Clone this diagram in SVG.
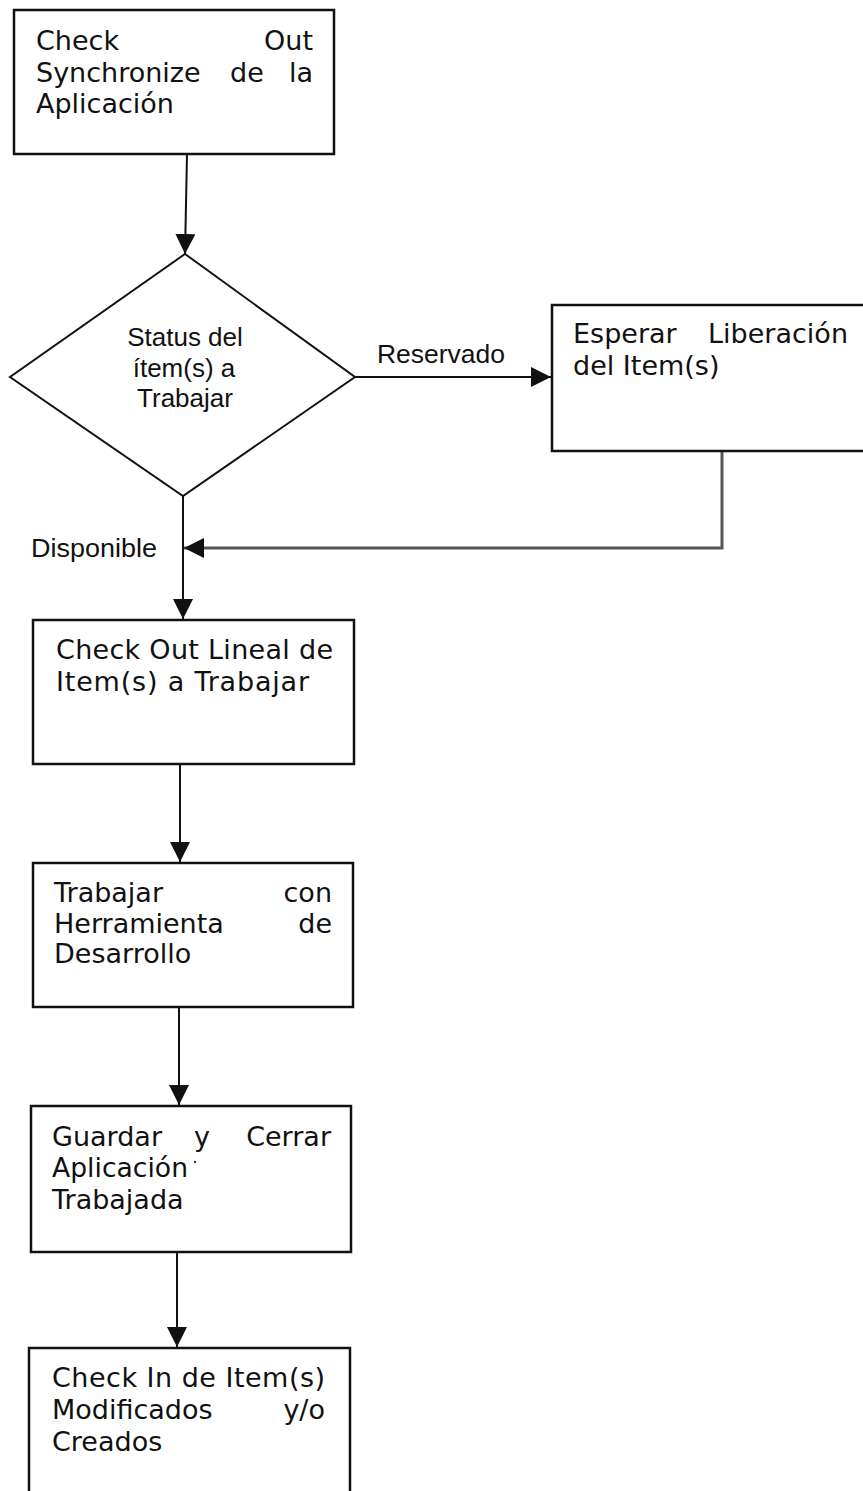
<svg xmlns="http://www.w3.org/2000/svg" width="863" height="1491" viewBox="0 0 863 1491">
  <style>
    .box { fill: #ffffff; stroke: #111111; stroke-width: 2.5; }
    .dec { fill: #ffffff; stroke: #111111; stroke-width: 2; }
    .step { font-family: "DejaVu Sans", Verdana, sans-serif; font-size: 27px; fill: #111111; }
    .lbl { font-family: "Liberation Sans", Arial, sans-serif; font-size: 26px; fill: #111111; }
    .end { text-anchor: end; }
    .mid { text-anchor: middle; }
    .flow { fill: none; stroke: #111111; stroke-width: 2; }
    .back { fill: none; stroke: #555555; stroke-width: 3; }
  </style>
  <defs>
    <marker id="arrow" viewBox="0 0 20 20" markerWidth="20" markerHeight="20" refX="20" refY="10" orient="auto" markerUnits="userSpaceOnUse">
      <path d="M0,0 L20,10 L0,20 Z" fill="#111111"/>
    </marker>
  </defs>

  <rect width="863" height="1491" fill="#ffffff"/>

  <!-- connectors -->
  <g id="connectors">
    <line class="flow" x1="187" y1="154" x2="185" y2="254" marker-end="url(#arrow)"/>
    <line class="flow" x1="355" y1="377" x2="551" y2="377" marker-end="url(#arrow)"/>
    <polyline class="back" points="722,451 722,548 184,548" marker-end="url(#arrow)"/>
    <line class="flow" x1="183" y1="496" x2="183" y2="619" marker-end="url(#arrow)"/>
    <line class="flow" x1="180" y1="764" x2="180" y2="862" marker-end="url(#arrow)"/>
    <line class="flow" x1="179" y1="1007" x2="179" y2="1105" marker-end="url(#arrow)"/>
    <line class="flow" x1="177" y1="1252" x2="177" y2="1347" marker-end="url(#arrow)"/>
    <text class="lbl" x="377" y="363" textLength="128" lengthAdjust="spacingAndGlyphs">Reservado</text>
    <text class="lbl" x="31" y="557" textLength="126" lengthAdjust="spacingAndGlyphs">Disponible</text>
  </g>

  <!-- Check Out Synchronize -->
  <g id="checkout-sync">
    <rect class="box" x="14" y="10" width="320" height="144"/>
    <text class="step" x="36" y="50">Check</text>
    <text class="step end" x="313" y="50">Out</text>
    <text class="step" x="36" y="82">Synchronize</text>
    <text class="step" x="230" y="82">de</text>
    <text class="step end" x="313" y="82">la</text>
    <text class="step" x="36" y="113">Aplicación</text>
  </g>

  <!-- Status decision -->
  <g id="status">
    <polygon class="dec" points="185,254 355,377 183,496 10,377"/>
    <text class="lbl mid" x="185" y="346">Status del</text>
    <text class="lbl mid" x="184" y="377">ítem(s) a</text>
    <text class="lbl mid" x="185" y="407">Trabajar</text>
  </g>

  <!-- Esperar Liberacion (runs past the right edge) -->
  <g id="esperar">
    <rect class="box" x="552" y="305" width="320" height="146"/>
    <text class="step" x="573" y="343">Esperar</text>
    <text class="step end" x="848" y="343">Liberación</text>
    <text class="step" x="573" y="375">del Item(s)</text>
  </g>

  <!-- Check Out Lineal -->
  <g id="checkout-lineal">
    <rect class="box" x="33" y="620" width="321" height="144"/>
    <text class="step" x="56" y="659" textLength="277" lengthAdjust="spacing">Check Out Lineal de</text>
    <text class="step" x="56" y="691" textLength="253" lengthAdjust="spacing">Item(s) a Trabajar</text>
  </g>

  <!-- Trabajar con Herramienta -->
  <g id="trabajar">
    <rect class="box" x="33" y="863" width="320" height="144"/>
    <text class="step" x="54" y="902">Trabajar</text>
    <text class="step end" x="332" y="902">con</text>
    <text class="step" x="54" y="933">Herramienta</text>
    <text class="step end" x="332" y="933">de</text>
    <text class="step" x="54" y="963">Desarrollo</text>
  </g>

  <!-- Guardar y Cerrar -->
  <g id="guardar">
    <rect class="box" x="31" y="1106" width="320" height="146"/>
    <text class="step" x="52" y="1146">Guardar</text>
    <text class="step mid" x="202" y="1146">y</text>
    <text class="step end" x="331" y="1146">Cerrar</text>
    <text class="step" x="52" y="1177" textLength="136" lengthAdjust="spacingAndGlyphs">Aplicación</text>
    <circle cx="195" cy="1162" r="1.2" fill="#333333"/>
    <text class="step" x="52" y="1209">Trabajada</text>
  </g>

  <!-- Check In (runs past the bottom edge) -->
  <g id="checkin">
    <rect class="box" x="29" y="1348" width="321" height="160"/>
    <text class="step" x="52" y="1387" textLength="273" lengthAdjust="spacing">Check In de Item(s)</text>
    <text class="step" x="52" y="1419">Modificados</text>
    <text class="step end" x="325" y="1419">y/o</text>
    <text class="step" x="52" y="1451">Creados</text>
  </g>
</svg>
